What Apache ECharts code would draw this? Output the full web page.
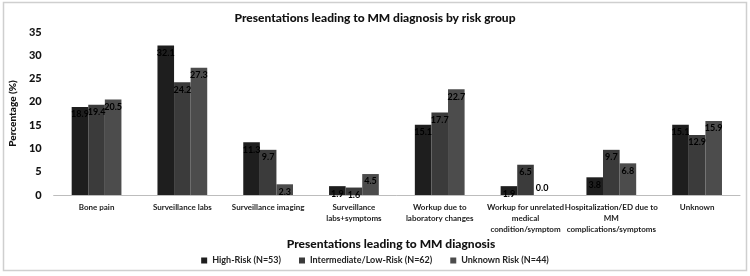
<!DOCTYPE html>
<html><head><meta charset="utf-8">
<script src="https://cdn.jsdelivr.net/npm/echarts@6/dist/echarts.min.js"></script>
<style>html,body{margin:0;padding:0;background:#fff}#c{width:750px;height:276px}</style>
</head><body><div id="c"></div>
<script>
const categories = ["Bone pain","Surveillance labs","Surveillance imaging","Surveillance\nlabs+symptoms","Workup due to\nlaboratory changes","Workup for unrelated\nmedical\ncondition/symptom","Hospitalization/ED due to\nMM\ncomplications/symptoms","Unknown"];
const seriesNames = ["High-Risk (N=53)","Intermediate/Low-Risk (N=62)","Unknown Risk (N=44)"];
const highRisk = [18.9,32.1,11.3,1.9,15.1,1.9,3.8,15.1];
const intermediateRisk = [19.4,24.2,9.7,1.6,17.7,6.5,9.7,12.9];
const unknownRisk = [20.5,27.3,2.3,4.5,22.7,0.0,6.8,15.9];
const colors = ["#1e1e1e","#3b3b3b","#4c4c4c"];
const FONT = "Lato";
const chart = echarts.init(document.getElementById('c'));
function mk(name, data, color){
  return {name, type:'bar', barGap:'0%', barCategoryGap:'42%',
    data: data.map(v => v === 0 ? {value:v, label:{position:'top', distance:2}} : v),
    itemStyle:{color},
    label:{show:true, position:'insideTop', distance:3, formatter:p=>p.value.toFixed(1),
      color:'#000', fontFamily:FONT, fontWeight:'bold', fontSize:9}};
}
chart.setOption({
  animation:false,
  textStyle:{fontFamily:FONT},
  graphic:[{type:'rect', shape:{x:3.5,y:2.5,width:743,height:268}, style:{fill:'none', stroke:'#cfcfcf', lineWidth:1.5}, silent:true, z:-1}],
  title:[{text:'Presentations leading to MM diagnosis by risk group', left:'center', top:7,
    textStyle:{fontFamily:FONT, fontWeight:900, fontSize:12, color:'#111'}},
    {text:'Presentations leading to MM diagnosis', left:386, textAlign:'center', top:233,
    textStyle:{fontFamily:FONT, fontWeight:900, fontSize:12, color:'#111'}}],
  grid:{left:49, right:10, top:32, bottom:81, containLabel:false},
  legend:{bottom:6, left:'center', itemWidth:6, itemHeight:6, itemGap:18, icon:'rect',
    textStyle:{fontFamily:FONT, fontSize:9, fontWeight:'bold', color:'#222'}, data:seriesNames},
  xAxis:{type:'category', data:categories,
    axisLine:{lineStyle:{color:'#bdbdbd', width:1}}, axisTick:{show:false},
    axisLabel:{interval:0, fontFamily:FONT, fontSize:8, fontWeight:'bold', color:'#222', lineHeight:11, margin:7}},
  yAxis:{type:'value', min:0, max:35, interval:5, name:'Percentage (%)', nameLocation:'middle', nameGap:28,
    nameTextStyle:{fontFamily:FONT, fontWeight:900, fontSize:10, color:'#111'},
    axisLine:{show:false}, axisTick:{show:false}, splitLine:{show:false},
    axisLabel:{fontFamily:FONT, fontSize:11, fontWeight:900, color:'#111', margin:12}},
  series:[mk(seriesNames[0],highRisk,colors[0]), mk(seriesNames[1],intermediateRisk,colors[1]), mk(seriesNames[2],unknownRisk,colors[2])]
});
</script></body></html>
